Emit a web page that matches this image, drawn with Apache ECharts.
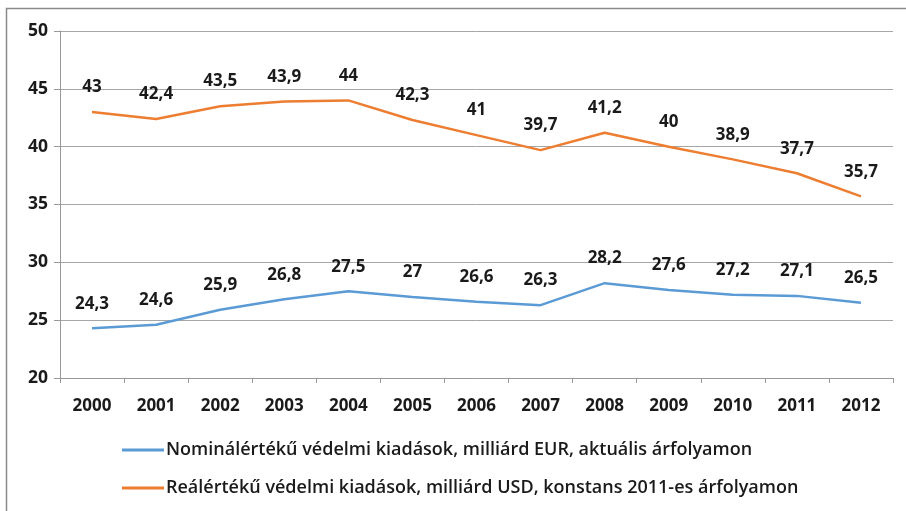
<!DOCTYPE html>
<html>
<head>
<meta charset="utf-8">
<script src="https://cdn.jsdelivr.net/npm/echarts@6/dist/echarts.min.js"></script>
<style>html,body{margin:0;padding:0;background:#fff}#c{width:906px;height:511px}</style>
</head>
<body>
<div id="c"></div>
<script>
const years = ['2000','2001','2002','2003','2004','2005','2006','2007','2008','2009','2010','2011','2012'];
const nominalEUR = [24.3,24.6,25.9,26.8,27.5,27.0,26.6,26.3,28.2,27.6,27.2,27.1,26.5];
const realUSD = [43.0,42.4,43.5,43.9,44.0,42.3,41.0,39.7,41.2,40.0,38.9,37.7,35.7];
const seriesNames = ['Nominálértékű védelmi kiadások, milliárd EUR, aktuális árfolyamon','Reálértékű védelmi kiadások, milliárd USD, konstans 2011-es árfolyamon'];
const yTicks = {min:20,max:50,interval:5};

const FONT = '"Open Sans", "Liberation Sans", Arial, sans-serif';
const fmt = p => String(p.value).replace('.', ',');
const chart = echarts.init(document.getElementById('c'), null, {renderer:'canvas'});
const labelStyle = {show:true, position:'top', distance:16, formatter:fmt, color:'#1a1a1a', fontFamily:FONT, fontWeight:'bold', fontSize:17};
chart.setOption({
  animation:false,
  backgroundColor:'#fff',
  graphic:[{type:'rect', shape:{x:6.5,y:8.5,width:950,height:560}, style:{fill:'none', stroke:'#8a8a8a', lineWidth:1.5}, silent:true}],
  grid:{left:60, right:13, top:31, bottom:133},
  xAxis:{type:'category', data:years, boundaryGap:true,
    axisLine:{lineStyle:{color:'#999',width:1}},
    axisTick:{show:true, length:5, lineStyle:{color:'#999'}},
    axisLabel:{margin:20, color:'#1a1a1a', fontFamily:FONT, fontWeight:'bold', fontSize:17}},
  yAxis:{type:'value', min:yTicks.min, max:yTicks.max, interval:yTicks.interval,
    axisLine:{show:true, lineStyle:{color:'#999',width:1}},
    axisTick:{show:true, length:6, lineStyle:{color:'#999'}},
    splitLine:{lineStyle:{color:'#a6a6a6',width:1}},
    axisLabel:{margin:12, color:'#1a1a1a', fontFamily:FONT, fontWeight:'bold', fontSize:17.5}},
  legend:{orient:'vertical', left:117, top:435, itemGap:18, itemWidth:42, itemHeight:3, icon:'rect',
    textStyle:{color:'#1a1a1a', fontFamily:FONT, fontSize:18, fontWeight:600, lineHeight:20, padding:[0,0,0,-3]},
    data:seriesNames},
  series:[
    {name:seriesNames[0], type:'line', data:nominalEUR, symbol:'circle', symbolSize:0.1, showSymbol:true, lineStyle:{color:'#5B9BD5', width:2.5}, itemStyle:{color:'#5B9BD5'}, label:labelStyle},
    {name:seriesNames[1], type:'line', data:realUSD, symbol:'circle', symbolSize:0.1, showSymbol:true, lineStyle:{color:'#ED7D31', width:2.5}, itemStyle:{color:'#ED7D31'}, label:labelStyle}
  ]
});
</script>
</body>
</html>
